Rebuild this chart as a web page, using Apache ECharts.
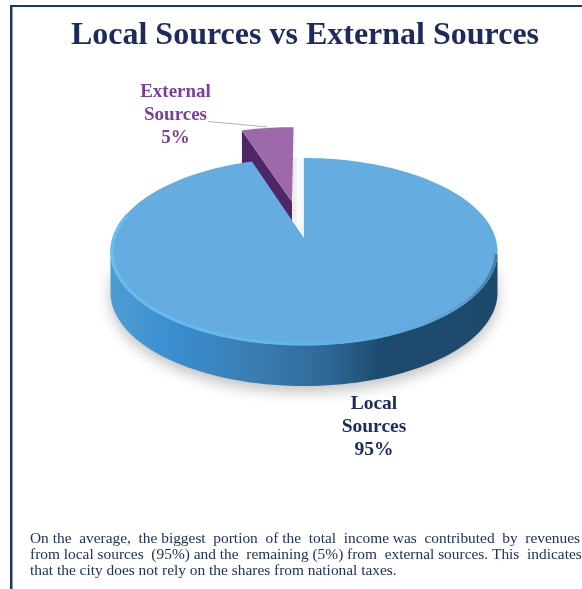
<!DOCTYPE html>
<html>
<head>
<meta charset="utf-8">
<style>html,body{margin:0;padding:0;background:#fff}#chart{width:582px;height:589px}</style>
<script src="https://cdn.jsdelivr.net/npm/echarts@6/dist/echarts.min.js"></script>
</head>
<body>
<div id="chart"></div>
<script>
// Source shares of total income
const categories = ['Local Sources', 'External Sources'];
const shares = [95, 5];
const titleText = 'Local Sources vs External Sources';
const noteLines = [
  'On the average, the biggest portion of the total income was contributed by revenues',
  'from local sources (95%)  and the remaining (5%) from external sources. This indicates',
  'that the city does not rely on the shares from national taxes.'
];

const NAVY = '#1c2a5e';
const SERIF = '"Liberation Serif", serif';

// Perspective projection of the unit pie disc onto the page
const view = { cx: 304, apexY: 238, sx: 191.5, p: 57.2, r: -0.1444, depth: 41 };
function project(X, Y) {
  const d = 1 + view.r * Y;
  return [view.cx + view.sx * X / d, (view.p * Y + view.apexY) / d];
}
// Rim point at a clockwise angle from 12 o'clock, with an optional pull-out
function rim(deg, off, radius) {
  const t = deg * Math.PI / 180;
  return project(off[0] + radius * Math.sin(t), off[1] - radius * Math.cos(t));
}
function arc(from, to, off, radius) {
  const pts = [];
  const n = Math.max(2, Math.ceil(Math.abs(to - from) / 2));
  for (let i = 0; i <= n; i++) pts.push(rim(from + (to - from) * i / n, off, radius));
  return pts;
}
const hGrad = (x0, x1, stops) => ({
  type: 'linear', x: x0, y: 0, x2: x1, y2: 0, global: true,
  colorStops: stops.map(s => ({ offset: s[0], color: s[1] }))
});

const total = shares.reduce((a, b) => a + b, 0);
const PULL = 0.422;
const PULLED_RADIUS = 1.05;

function renderSlice(params, api) {
  const i = params.dataIndex;
  const before = shares.slice(0, i).reduce((a, b) => a + b, 0);
  const start = before / total * 360;
  const end = start + api.value(0) / total * 360;
  const children = [];

  if (i === 0) {
    // Large slice: outer wall, top face, lit bevel on the rim
    const front = arc(98.6, 261.4, [0, 0], 1);
    const wall = front.concat(front.slice().reverse().map(p => [p[0], p[1] + view.depth]));
    children.push({
      type: 'polygon', z2: 10,
      shape: { points: wall },
      style: {
        fill: hGrad(111, 498, [[0, '#4f9cd4'], [0.16, '#3a8ed0'], [0.38, '#3a7cb0'], [0.55, '#2f6a98'], [0.7, '#1d4a6e'], [1, '#1d4a6c']]),
        shadowBlur: 14, shadowColor: 'rgba(0,0,0,0.24)', shadowOffsetY: 6
      }
    });
    const top = [project(0, 0)].concat(arc(start, end, [0, 0], 1));
    children.push({ type: 'polygon', z2: 12, shape: { points: top }, style: { fill: '#65ade0' } });
    children.push({
      type: 'polyline', z2: 13,
      shape: { points: arc(100, 285, [0, 0], 0.993) },
      style: {
        fill: null, lineWidth: 3,
        stroke: hGrad(111, 498, [[0, '#69bdf0'], [0.5, '#5fb7ed'], [0.72, '#65ade0'], [0.9, '#5c9fd0'], [1, '#3f7ba6']])
      }
    });
    // Faint shade cast into the gap next to the slice
    const a = project(0, 0);
    const t = rim(0, [0, 0], 1);
    children.push({
      type: 'polygon', z2: 3,
      shape: { points: [a, t, [t[0] - 11, t[1]], [t[0] - 11, a[1] - 20]] },
      style: { fill: hGrad(t[0] - 11, t[0], [[0, '#e8e8e8'], [0.45, '#f8f8f8'], [0.75, '#fafafa'], [1, '#ebebeb']]) }
    });
    children.push({
      type: 'text', z2: 20,
      style: {
        text: 'Local\nSources\n' + api.value(0) + '%', x: 374, y: 427,
        fill: NAVY, font: 'bold 19.5px ' + SERIF, lineHeight: 23,
        textAlign: 'center', textVerticalAlign: 'middle'
      }
    });
  } else {
    // Small slice pulled out along its middle angle, drawn behind the large one
    const mid = (start + end) / 2 * Math.PI / 180;
    const off = [PULL * Math.sin(mid), -PULL * Math.cos(mid)];
    const apex = project(off[0], off[1]);
    const rimPts = arc(start, end, off, PULLED_RADIUS);
    const left = rimPts[0];
    children.push({
      type: 'polygon', z2: 1,
      shape: { points: [left, apex, [apex[0], apex[1] + view.depth], [left[0], left[1] + view.depth]] },
      style: { fill: '#4e2766' }
    });
    children.push({ type: 'polygon', z2: 2, shape: { points: [apex].concat(rimPts) }, style: { fill: '#9d69aa' } });
    const anchor = rim((start + end) / 2, off, PULLED_RADIUS);
    children.push({
      type: 'polyline', z2: 0,
      shape: { points: [[208, 121.5], [anchor[0], anchor[1] - 1]] },
      style: { fill: null, stroke: '#b3b3b3', lineWidth: 1 }
    });
    children.push({
      type: 'text', z2: 20,
      style: {
        text: 'External\nSources\n' + api.value(0) + '%', x: 175.5, y: 115,
        fill: '#7a3f9a', font: 'bold 19px ' + SERIF, lineHeight: 23,
        textAlign: 'center', textVerticalAlign: 'middle'
      }
    });
  }
  return { type: 'group', children };
}

// Widen the gaps of a line so that it fills the text column
const measure = document.createElement('canvas').getContext('2d');
function justify(line, width, font) {
  measure.font = font;
  const words = line.split(/ +/);
  const gaps = words.length - 1;
  const spaces = Math.round((width - measure.measureText(words.join('')).width) / measure.measureText(' ').width);
  let out = words[0];
  for (let i = 1; i <= gaps; i++) {
    const n = Math.floor(spaces * i / gaps) - Math.floor(spaces * (i - 1) / gaps);
    out += ' '.repeat(Math.max(1, n)) + words[i];
  }
  return out;
}

const NOTE_FONT = '15.4px ' + SERIF;
const noteGraphics = noteLines.map((line, i) => ({
  type: 'text', left: 30, top: 531.5 + i * 16,
  style: {
    text: i < 2 ? justify(line, 551, NOTE_FONT) : line,
    font: NOTE_FONT, fill: '#22305e'
  }
}));

const chart = echarts.init(document.getElementById('chart'), null, { renderer: 'canvas' });
chart.setOption({
  animation: false,
  backgroundColor: '#fff',
  title: {
    text: titleText, left: 300, top: 15, textAlign: 'center',
    textStyle: { color: NAVY, fontFamily: SERIF, fontWeight: 'bold', fontSize: 32 }
  },
  graphic: [
    { type: 'rect', left: 10, top: 5, shape: { width: 572, height: 2 }, style: { fill: '#1f3864' } },
    { type: 'rect', left: 10, top: 5, shape: { width: 2.5, height: 584 }, style: { fill: '#1f3864' } }
  ].concat(noteGraphics),
  series: [{
    type: 'custom',
    coordinateSystem: 'none',
    renderItem: renderSlice,
    data: categories.map((name, i) => ({ name, value: shares[i] }))
  }]
});
</script>
</body>
</html>
